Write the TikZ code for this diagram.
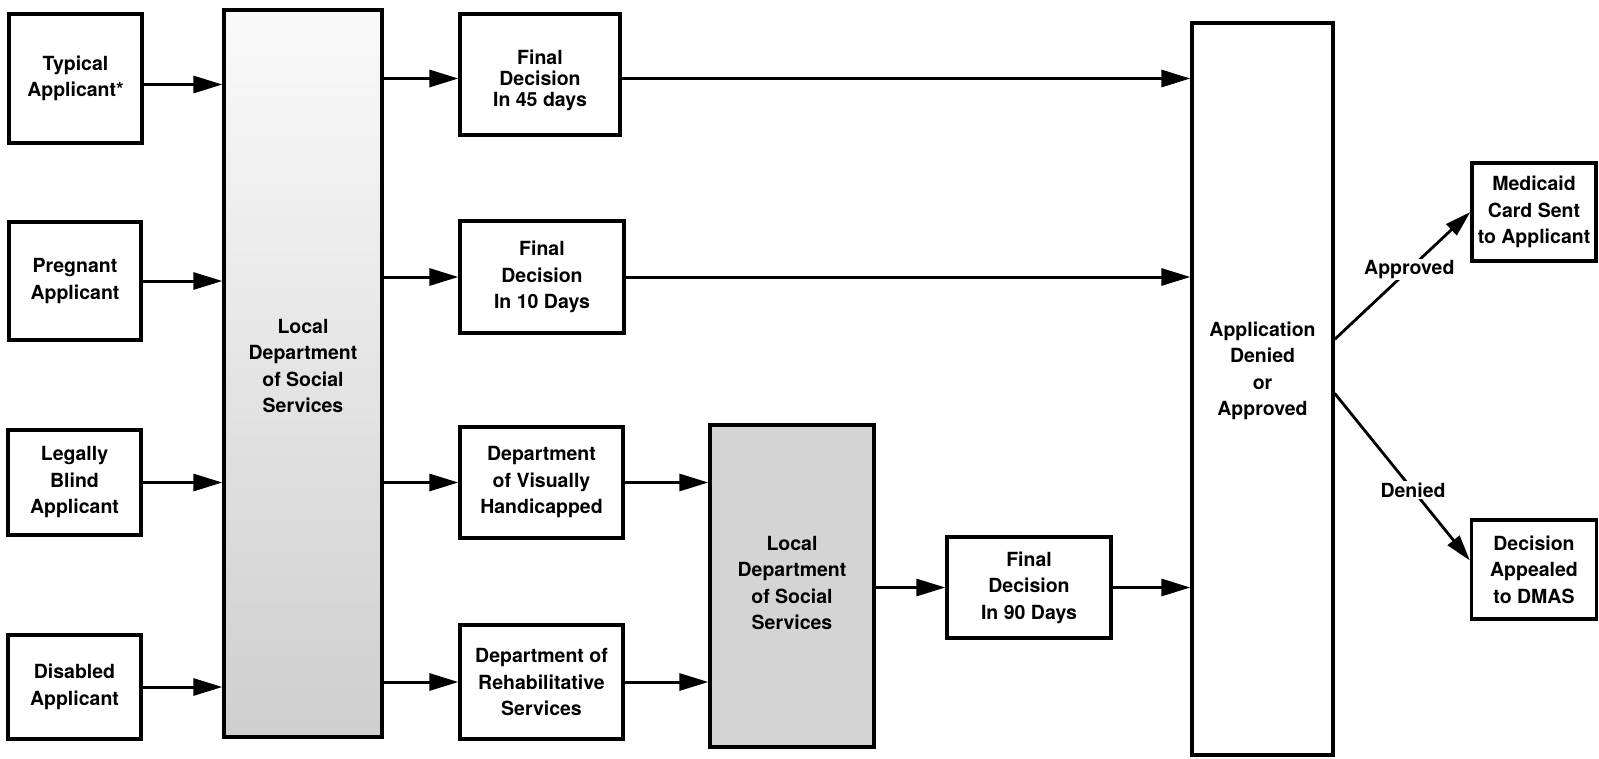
\documentclass[tikz,border=0pt]{standalone}
\usepackage{fontspec}
\setmainfont{TeX Gyre Heros}
\usetikzlibrary{arrows.meta,calc}
\tikzset{
  box/.style={draw, line width=3.3pt, align=center, inner sep=0pt,
    font=\bfseries\fontsize{19.5}{26.5}\selectfont},
  txt/.style={align=center, inner sep=0pt, font=\bfseries\fontsize{19.5}{26.5}\selectfont},
  arr/.style={line width=3pt, -{Triangle[length=29pt,width=17pt]}},
  darr/.style={line width=2.8pt, -{Triangle[length=26pt,width=15pt]}},
  lbl/.style={fill=white, inner sep=1.5pt, font=\bfseries\fontsize{19.5}{24}\selectfont},
  shadeA/.style={top color=black!2, middle color=black!15, bottom color=black!19},
  shadeB/.style={fill=black!17}
}
\begin{document}
\begin{tikzpicture}[x=1pt,y=-1pt]
\useasboundingbox (0,0) rectangle (1599,758);
% left column
\node[box, minimum width=133pt, minimum height=129pt] (typ) at (75.5,78.5) {Typical\\Applicant*};
\node[box, minimum width=132pt, minimum height=118pt] (preg) at (75,281) {Pregnant\\Applicant};
\node[box, minimum width=133pt, minimum height=105pt] (blind) at (74.5,482.5) {Legally\\Blind\\Applicant};
\node[box, minimum width=133pt, minimum height=104pt] (dis) at (74.5,687) {Disabled\\Applicant};
% local department 1
\node[box, shadeA, minimum width=158pt, minimum height=727pt] (ldss1) at (303,373.5) {};
\node[txt] (ldss1t) at (303,366) {Local\\Department\\of Social\\Services};
% second column
\node[box, minimum width=160pt, minimum height=121pt] (f45) at (540,74.5) {};
\node[txt, font=\bfseries\fontsize{19.5}{21}\selectfont] (f45t) at (540,80) {Final\\Decision\\In 45 days};
\node[box, minimum width=164pt, minimum height=112pt] (f10) at (542,277) {Final\\Decision\\In 10 Days};
\node[box, minimum width=163pt, minimum height=111pt] (vis) at (541.5,482.5) {Department\\of Visually\\Handicapped};
\node[box, minimum width=163pt, minimum height=114pt] (rehab) at (541.5,682) {Department of\\Rehabilitative\\Services};
% local department 2
\node[box, shadeB, minimum width=164pt, minimum height=322pt] (ldss2) at (792,586) {};
\node[txt] (ldss2t) at (792,583) {Local\\Department\\of Social\\Services};
\node[box, minimum width=164pt, minimum height=101pt] (f90) at (1029,587.5) {Final\\Decision\\In 90 Days};
% application box
\node[box, minimum width=141pt, minimum height=732pt] (app) at (1262.5,389) {};
\node[txt] (appt) at (1262.5,371) {Application\\Denied\\or\\Approved};
% outcomes
\node[box, minimum width=124pt, minimum height=98pt] (med) at (1534,212) {Medicaid\\Card Sent\\to Applicant};
\node[box, minimum width=125pt, minimum height=99pt] (dec) at (1534,569.5) {Decision\\Appealed\\to DMAS};
% connectors
\coordinate (t1) at ($(typ.east)+(0,6)$);
\coordinate (s1) at ($(f45.west -| ldss1.east)+(0,4)$);
\coordinate (s2) at ($(f45.east)+(0,4)$);
\draw[arr] (t1) -- (t1 -| ldss1.west);
\draw[arr] (preg.east) -- (preg.east -| ldss1.west);
\draw[arr] (blind.east) -- (blind.east -| ldss1.west);
\draw[arr] (dis.east) -- (dis.east -| ldss1.west);
\draw[arr] (s1) -- (s1 -| f45.west);
\draw[arr] (f10.west -| ldss1.east) -- (f10.west);
\draw[arr] (vis.west -| ldss1.east) -- (vis.west);
\draw[arr] (rehab.west -| ldss1.east) -- (rehab.west);
\draw[arr] (s2) -- (s2 -| app.west);
\draw[arr] (f10.east) -- (f10.east -| app.west);
\draw[arr] (vis.east) -- (vis.east -| ldss2.west);
\draw[arr] (rehab.east) -- (rehab.east -| ldss2.west);
\draw[arr] (f90.west -| ldss2.east) -- (f90.west);
\draw[arr] (f90.east) -- (f90.east -| app.west);
\coordinate (a1) at ($(app.north east)+(0,318)$);
\coordinate (a2) at ($(app.north east)+(0,372)$);
\coordinate (d1) at ($(dec.west)+(0,-9)$);
\draw[darr] (a1) -- node[lbl, pos=.55] {Approved} (med.west);
\draw[darr] (a2) -- node[lbl, pos=.58] {Denied} (d1);
\end{tikzpicture}
\end{document}
